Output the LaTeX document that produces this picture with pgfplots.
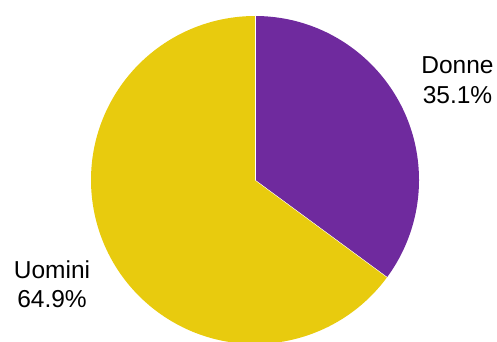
\documentclass[border=0pt]{standalone}
\usepackage{pgfplots}
\pgfplotsset{compat=1.18}
\usepackage{fontspec}
\setmainfont{Liberation Sans}
\definecolor{donne}{HTML}{6F2A9E}
\definecolor{uomini}{HTML}{E8CB0E}
\begin{document}
\begin{tikzpicture}
\useasboundingbox (0,0) rectangle (497pt,341pt);
\pgfmathsetmacro{\vD}{35.1}
\pgfmathsetmacro{\vU}{64.9}
\pgfmathsetmacro{\aD}{90-3.6*\vD}
\pgfmathsetmacro{\aU}{\aD-3.6*\vU}
\begin{axis}[scale only axis, width=497pt, height=341pt,
  xmin=0, xmax=497, ymin=0, ymax=341, hide axis, clip=true]
\fill[donne] (axis cs:255,161) -- ++(axis direction cs:0,164) arc[start angle=90, end angle=\aD, radius=164] -- cycle;
\fill[uomini] (axis cs:255,161) -- ++(axis direction cs:{164*cos(\aD)},{164*sin(\aD)}) arc[start angle=\aD, end angle=\aU, radius=164] -- cycle;
\draw[white, line width=0.4pt] (axis cs:255,161) -- ++(axis direction cs:0,164);
\draw[white, line width=0.4pt] (axis cs:255,161) -- ++(axis direction cs:{164*cos(\aD)},{164*sin(\aD)});
\node[anchor=base, align=center, font=\fontsize{24.5}{29.5}\selectfont] at (axis cs:457.5,238) {Donne\\35.1\%};
\node[anchor=base, align=center, font=\fontsize{24.5}{28.5}\selectfont] at (axis cs:52,34) {Uomini\\64.9\%};
\end{axis}
\end{tikzpicture}
\end{document}
